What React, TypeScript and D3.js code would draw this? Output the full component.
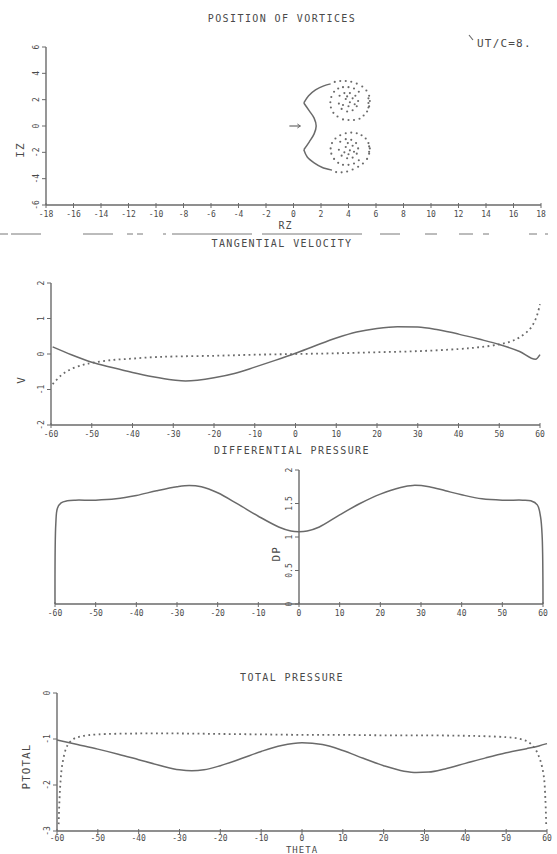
import React from "react";
import * as d3 from "d3";

// ---------- DATA ----------
const rzTicks = [-18, -16, -14, -12, -10, -8, -6, -4, -2, 0, 2, 4, 6, 8, 10, 12, 14, 16, 18];
const izTicks = [-6, -4, -2, 0, 2, 4, 6];
const thetaTicks = [-60, -50, -40, -30, -20, -10, 0, 10, 20, 30, 40, 50, 60];
const vTicks = [-2, -1, 0, 1, 2];
const dpTicks = [0, 0.5, 1, 1.5, 2];
const ptTicks = [-3, -2, -1, 0];

// vortex sheet (solid)
const sheetUpper: [number, number][] = [
  [2.7, 3.2], [2.2, 3.05], [1.6, 2.75], [1.1, 2.3], [0.75, 1.75],
];
const sheetMiddle: [number, number][] = [
  [0.75, 1.75], [1.15, 1.15], [1.5, 0.6], [1.65, 0], [1.5, -0.6], [1.15, -1.2], [0.75, -1.8],
];
const sheetLower: [number, number][] = [
  [0.75, -1.8], [1.0, -2.35], [1.5, -2.8], [2.1, -3.15], [2.8, -3.35],
];
// rolled-up vortex points (dotted)
const vortexUpper: [number, number][] = [
  [3.0, 3.35], [3.4, 3.42], [3.8, 3.42], [4.2, 3.36], [4.6, 3.22], [5.0, 3.0], [5.3, 2.7],
  [5.5, 2.3], [5.55, 1.9], [5.5, 1.5], [5.35, 1.1], [5.1, 0.8], [4.8, 0.55], [4.4, 0.45],
  [4.0, 0.45], [3.6, 0.5], [3.2, 0.72], [2.9, 1.0], [2.72, 1.4], [2.68, 1.8], [2.75, 2.2],
  [2.95, 2.6], [3.25, 2.85], [3.6, 2.95], [4.0, 2.95], [4.4, 2.85], [4.75, 2.6],
  [3.35, 2.3], [3.7, 2.5], [4.1, 2.5], [4.5, 2.3], [4.7, 1.9], [4.6, 1.5], [4.3, 1.2],
  [3.9, 1.1], [3.5, 1.3], [3.3, 1.7], [3.8, 2.05], [4.1, 1.8], [4.3, 2.1], [3.6, 1.6],
  [4.0, 1.5], [4.45, 1.65], [3.9, 2.25], [5.45, 2.1], [5.45, 1.75], [5.45, 1.4],
];
const vortexLower: [number, number][] = [
  [3.1, -3.5], [3.5, -3.52], [3.9, -3.45], [4.3, -3.3], [4.7, -3.1], [5.05, -2.85], [5.35, -2.5],
  [5.5, -2.1], [5.55, -1.7], [5.45, -1.3], [5.25, -0.95], [4.95, -0.7], [4.6, -0.55], [4.2, -0.5],
  [3.8, -0.55], [3.4, -0.7], [3.05, -0.95], [2.8, -1.3], [2.7, -1.7], [2.75, -2.1], [2.95, -2.5],
  [3.25, -2.8], [3.6, -2.95], [4.0, -2.95], [4.4, -2.85], [4.75, -2.6],
  [3.4, -1.2], [3.8, -1.0], [4.2, -1.05], [4.55, -1.3], [4.7, -1.7], [4.6, -2.1], [4.3, -2.4],
  [3.9, -2.45], [3.5, -2.25], [3.3, -1.8], [3.8, -1.6], [4.1, -1.85], [4.3, -1.5], [3.7, -2.0],
  [4.0, -2.15], [4.4, -1.95], [3.95, -1.3], [5.5, -1.55], [5.5, -1.95],
];
const arrowRz = [-0.3, 0.5];

// tangential velocity
const vTheta = [-59.6, -55, -50, -45, -40, -35, -30, -27, -20, -15, -10, -5, 0, 5, 10, 15, 20, 25, 30, 35, 40, 45, 50, 55, 58.9, 60];
const vSolid = [0.2, -0.02, -0.23, -0.38, -0.52, -0.64, -0.73, -0.76, -0.67, -0.55, -0.37, -0.18, 0.02, 0.24, 0.45, 0.62, 0.72, 0.77, 0.76, 0.68, 0.56, 0.42, 0.27, 0.07, -0.15, -0.02];
const vDotTheta = [-59.6, -57.5, -55, -52, -50, -45, -40, -35, -30, -20, -10, 0, 10, 20, 30, 40, 45, 50, 53, 55, 57.5, 59, 60];
const vDotted = [-0.85, -0.6, -0.42, -0.3, -0.25, -0.17, -0.13, -0.09, -0.07, -0.05, -0.02, 0.0, 0.02, 0.05, 0.08, 0.14, 0.19, 0.27, 0.36, 0.47, 0.7, 1.0, 1.4];

// differential pressure
const dpTheta = [-60, -59.8, -59.4, -58.5, -57, -55, -50, -45, -40, -35, -30, -27, -24, -20, -15, -10, -5, -2, 0, 2, 5, 10, 15, 20, 25, 28, 32, 36, 40, 45, 50, 55, 57, 58.6, 59.4, 59.8, 60];
const dpValues = [0, 1.2, 1.43, 1.51, 1.54, 1.55, 1.55, 1.57, 1.62, 1.69, 1.75, 1.77, 1.75, 1.66, 1.49, 1.31, 1.15, 1.09, 1.08, 1.09, 1.15, 1.33, 1.5, 1.64, 1.74, 1.77, 1.75, 1.69, 1.63, 1.57, 1.55, 1.55, 1.54, 1.48, 1.3, 1.0, 0];

// total pressure
const ptTheta = [-60, -55, -50, -45, -40, -35, -30, -27, -24, -20, -15, -10, -5, 0, 5, 10, 15, 20, 25, 28, 31, 35, 40, 45, 50, 55, 58, 60];
const ptSolid = [-1.02, -1.12, -1.22, -1.33, -1.45, -1.57, -1.67, -1.69, -1.67, -1.58, -1.43, -1.27, -1.14, -1.08, -1.12, -1.25, -1.42, -1.58, -1.7, -1.73, -1.72, -1.65, -1.53, -1.41, -1.3, -1.21, -1.15, -1.1];
const ptDotTheta = [-59.6, -59.2, -58.6, -57.5, -56, -54, -50, -40, -30, -20, -10, 0, 10, 20, 30, 40, 45, 50, 53, 55.3, 57, 58.3, 59.2, 59.6, 59.8];
const ptDotted = [-2.85, -2.0, -1.5, -1.15, -1.0, -0.94, -0.9, -0.88, -0.88, -0.89, -0.9, -0.91, -0.91, -0.92, -0.92, -0.93, -0.94, -0.96, -0.99, -1.06, -1.2, -1.45, -1.8, -2.3, -2.85];

// ---------- STYLE ----------
const INK = "#6a6a6a";
const TXT = "#4a4a4a";
const FONT = "'DejaVu Sans Mono', monospace";

type Scale = d3.ScaleLinear<number, number>;

function XAxis({ x, y0, ticks, off = 12 }: { x: Scale; y0: number; ticks: number[]; off?: number }) {
  const [a, b] = x.range();
  return (
    <g>
      <line x1={a} x2={b} y1={y0} y2={y0} stroke={INK} strokeWidth={1.4} />
      {ticks.map((t) => (
        <g key={t}>
          <line x1={x(t)} x2={x(t)} y1={y0 - 2} y2={y0 + 3} stroke={INK} strokeWidth={1} />
          <text x={x(t)} y={y0 + off} textAnchor="middle" fontSize={8} fill={TXT} fontFamily={FONT}>
            {String(t)}
          </text>
        </g>
      ))}
    </g>
  );
}

function YAxis({ y, x0, ticks }: { y: Scale; x0: number; ticks: number[] }) {
  const [a, b] = y.range();
  return (
    <g>
      <line x1={x0} x2={x0} y1={a} y2={b} stroke={INK} strokeWidth={1.4} />
      {ticks.map((t) => (
        <g key={t}>
          <line x1={x0 - 4} x2={x0} y1={y(t)} y2={y(t)} stroke={INK} strokeWidth={1} />
          <text
            transform={`translate(${x0 - 7},${y(t)}) rotate(-90)`}
            textAnchor="middle"
            fontSize={8}
            fill={TXT}
            fontFamily={FONT}
          >
            {String(t)}
          </text>
        </g>
      ))}
    </g>
  );
}

function Title({ x, y, text, size = 10 }: { x: number; y: number; text: string; size?: number }) {
  return (
    <text x={x} y={y} textAnchor="middle" fontSize={size} fill={TXT} fontFamily={FONT} letterSpacing={1.4}>
      {text}
    </text>
  );
}

function RotLabel({ x, y, text, size = 10 }: { x: number; y: number; text: string; size?: number }) {
  return (
    <text transform={`translate(${x},${y}) rotate(-90)`} textAnchor="middle" fontSize={size} fill={TXT} fontFamily={FONT} letterSpacing={1}>
      {text}
    </text>
  );
}

export default function App() {
  // Panel 1
  const x1 = d3.scaleLinear().domain([-18, 18]).range([46, 541]);
  const y1 = d3.scaleLinear().domain([-6, 6]).range([205, 47]);
  const sheetLine = d3.line<[number, number]>().x((d) => x1(d[0])).y((d) => y1(d[1])).curve(d3.curveCatmullRom);

  // Panel 2
  const x2 = d3.scaleLinear().domain([-60, 60]).range([51, 540]);
  const y2 = d3.scaleLinear().domain([-2, 2]).range([425, 283]);
  const l2 = d3.line<number>().x((_, i) => x2(vTheta[i])).y((d) => y2(d)).curve(d3.curveMonotoneX);
  const l2d = d3.line<number>().x((_, i) => x2(vDotTheta[i])).y((d) => y2(d)).curve(d3.curveCatmullRom);

  // Panel 3
  const x3 = d3.scaleLinear().domain([-60, 60]).range([55, 543]);
  const y3 = d3.scaleLinear().domain([0, 2]).range([604, 470]);
  const l3 = d3.line<number>().x((_, i) => x3(dpTheta[i])).y((d) => y3(d)).curve(d3.curveCatmullRom);

  // Panel 4
  const x4 = d3.scaleLinear().domain([-60, 60]).range([57, 547]);
  const y4 = d3.scaleLinear().domain([-3, 0]).range([831, 693]);
  const l4 = d3.line<number>().x((_, i) => x4(ptTheta[i])).y((d) => y4(d)).curve(d3.curveMonotoneX);
  const l4d = d3.line<number>().x((_, i) => x4(ptDotTheta[i])).y((d) => y4(d)).curve(d3.curveCatmullRom);

  const ax = x1(arrowRz[1]);
  const ay = y1(0);

  return (
    <svg
      width={557}
      height={854}
      viewBox="0 0 557 854"
      style={{ position: "absolute", left: 0, top: 0, background: "#fff", display: "block" }}
    >
      <rect width={557} height={854} fill="#fff" />

      {/* Panel 1 */}
      <Title x={282} y={22} text="POSITION OF VORTICES" />
      <line x1={469} y1={35} x2={473} y2={40} stroke={INK} strokeWidth={1.2} />
      <text x={477} y={47} fontSize={11} fill={TXT} fontFamily={FONT} letterSpacing={1.2}>UT/C=8.</text>
      <YAxis y={y1} x0={x1.range()[0]} ticks={izTicks} />
      <XAxis x={x1} y0={y1.range()[0]} ticks={rzTicks} />
      <text x={x1(0) - 8} y={229} textAnchor="middle" fontSize={10} fill={TXT} fontFamily={FONT} letterSpacing={1}>RZ</text>
      <RotLabel x={24} y={150} text="IZ" size={11} />
      <path d={sheetLine(sheetUpper) || ""} fill="none" stroke={INK} strokeWidth={1.5} />
      <path d={sheetLine(sheetMiddle) || ""} fill="none" stroke={INK} strokeWidth={1.5} />
      <path d={sheetLine(sheetLower) || ""} fill="none" stroke={INK} strokeWidth={1.5} />
      {vortexUpper.concat(vortexLower).map((p, i) => (
        <circle key={i} cx={x1(p[0])} cy={y1(p[1])} r={1.05} fill={INK} />
      ))}
      <line x1={x1(arrowRz[0])} x2={ax} y1={ay} y2={ay} stroke={INK} strokeWidth={1.2} />
      <path d={`M${ax - 3},${ay - 2} L${ax},${ay} L${ax - 3},${ay + 2}`} fill="none" stroke={INK} strokeWidth={1} />

      {/* separator */}
      <line x1={0} x2={557} y1={234} y2={234} stroke={INK} strokeWidth={0.9} strokeDasharray="8,3,30,42,30,14,6,4,6,20,3,6,80,10,100,18,20,25,12,22,14,10,6,40,8" />

      {/* Panel 2 */}
      <Title x={282} y={247} text="TANGENTIAL VELOCITY" />
      <YAxis y={y2} x0={x2.range()[0]} ticks={vTicks} />
      <XAxis x={x2} y0={y2.range()[0]} ticks={thetaTicks} />
      <RotLabel x={25} y={380} text="V" size={11} />
      <path d={l2(vSolid) || ""} fill="none" stroke={INK} strokeWidth={1.5} />
      <path d={l2d(vDotted) || ""} fill="none" stroke={INK} strokeWidth={1.8} strokeDasharray="1.8,3.4" />

      {/* Panel 3 */}
      <Title x={292} y={454} text="DIFFERENTIAL PRESSURE" />
      <YAxis y={y3} x0={x3(0)} ticks={dpTicks} />
      <XAxis x={x3} y0={y3.range()[0]} ticks={thetaTicks} />
      <RotLabel x={x3(0) - 19} y={y3(0.75)} text="DP" size={11} />
      <path d={l3(dpValues) || ""} fill="none" stroke={INK} strokeWidth={1.5} />

      {/* Panel 4 */}
      <Title x={292} y={681} text="TOTAL PRESSURE" />
      <YAxis y={y4} x0={x4.range()[0]} ticks={ptTicks} />
      <XAxis x={x4} y0={y4.range()[0]} ticks={thetaTicks} off={10} />
      <RotLabel x={30} y={y4(-1.6)} text="PTOTAL" size={11} />
      <text x={x4(0)} y={853} textAnchor="middle" fontSize={9} fill={TXT} fontFamily={FONT} letterSpacing={1}>THETA</text>
      <path d={l4(ptSolid) || ""} fill="none" stroke={INK} strokeWidth={1.5} />
      <path d={l4d(ptDotted) || ""} fill="none" stroke={INK} strokeWidth={1.8} strokeDasharray="1.8,3.4" />
    </svg>
  );
}
